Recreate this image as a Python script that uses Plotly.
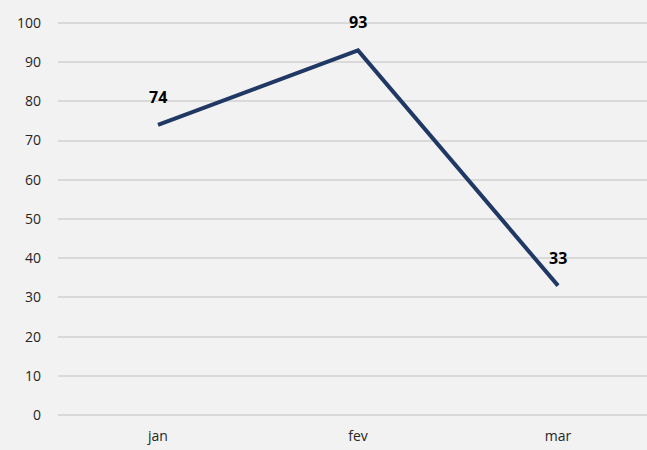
import plotly.graph_objects as go

months = ["jan", "fev", "mar"]
values = [74, 93, 33]
y_ticks = [0, 10, 20, 30, 40, 50, 60, 70, 80, 90, 100]

fig = go.Figure()

fig.add_trace(
    go.Scatter(
        x=months,
        y=values,
        mode="lines",
        line=dict(color="#203864", width=4),
        hoverinfo="x+y",
        showlegend=False
    )
)

for m, v in zip(months, values):
    fig.add_annotation(
        x=m,
        y=v,
        text="<b>%d</b>" % v,
        showarrow=False,
        yanchor="middle",
        yshift=28,
        font=dict(size=16, color="#000000", family="Open Sans")
    )

fig.update_layout(
    width=647,
    height=450,
    paper_bgcolor="#F2F2F2",
    plot_bgcolor="#F2F2F2",
    margin=dict(l=58, r=0, t=21, b=33),
    font=dict(family="Open Sans", size=14, color="#262626"),
    xaxis=dict(
        type="category",
        range=[-0.5, 2.445],
        showgrid=False,
        showline=False,
        zeroline=False,
        ticks="",
        ticklabelstandoff=9
    ),
    yaxis=dict(
        range=[-0.5, 100.5],
        tickvals=y_ticks,
        showgrid=True,
        gridcolor="#D9D9D9",
        gridwidth=1.5,
        zeroline=False,
        showline=False,
        ticks="",
        ticklabelstandoff=16
    )
)

fig.write_html(
    "out.html",
    config={"displayModeBar": False},
    post_script="document.body.style.margin='0';"
)
